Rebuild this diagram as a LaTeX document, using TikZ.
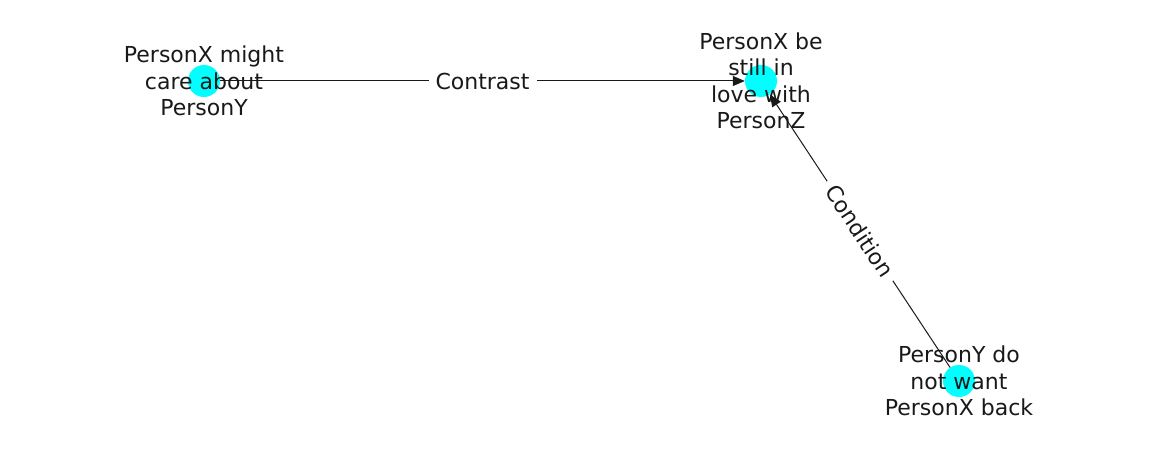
\documentclass[tikz,border=0pt]{standalone}
\usepackage{fontspec}
\setmainfont{DejaVu Sans}
\usetikzlibrary{arrows.meta}
\definecolor{nodecyan}{RGB}{0,255,255}
\tikzset{
	concept/.style={circle,fill=nodecyan,minimum size=32pt,inner sep=0pt},
	concept label/.style={align=center,text=black!90,font=\fontsize{22}{26.5}\selectfont},
	relation/.style={draw=black!90,line width=1pt,-{Triangle[length=12pt,width=10pt]}},
	relation label/.style={fill=white,inner sep=7pt,text=black!90,font=\fontsize{22}{26}\selectfont}
}
\begin{document}
\begin{tikzpicture}[x=1pt,y=-1pt]
   \useasboundingbox (0,0) rectangle (1162,462);
   \node[concept] (care) at (204,81) {};
   \node[concept] (love) at (761,81) {};
   \node[concept] (want) at (959,381) {};
   \draw[relation] (care) -- node[relation label] {Contrast} (love);
   \draw[relation] (want) -- node[relation label,sloped] {Condition} (love);
   \node[concept label] (careT) at (care) {PersonX might\\care about\\PersonY};
   \node[concept label] (loveT) at (love) {PersonX be\\still in\\love with\\PersonZ};
   \node[concept label] (wantT) at (want) {PersonY do\\not want\\PersonX back};
\end{tikzpicture}
\end{document}
